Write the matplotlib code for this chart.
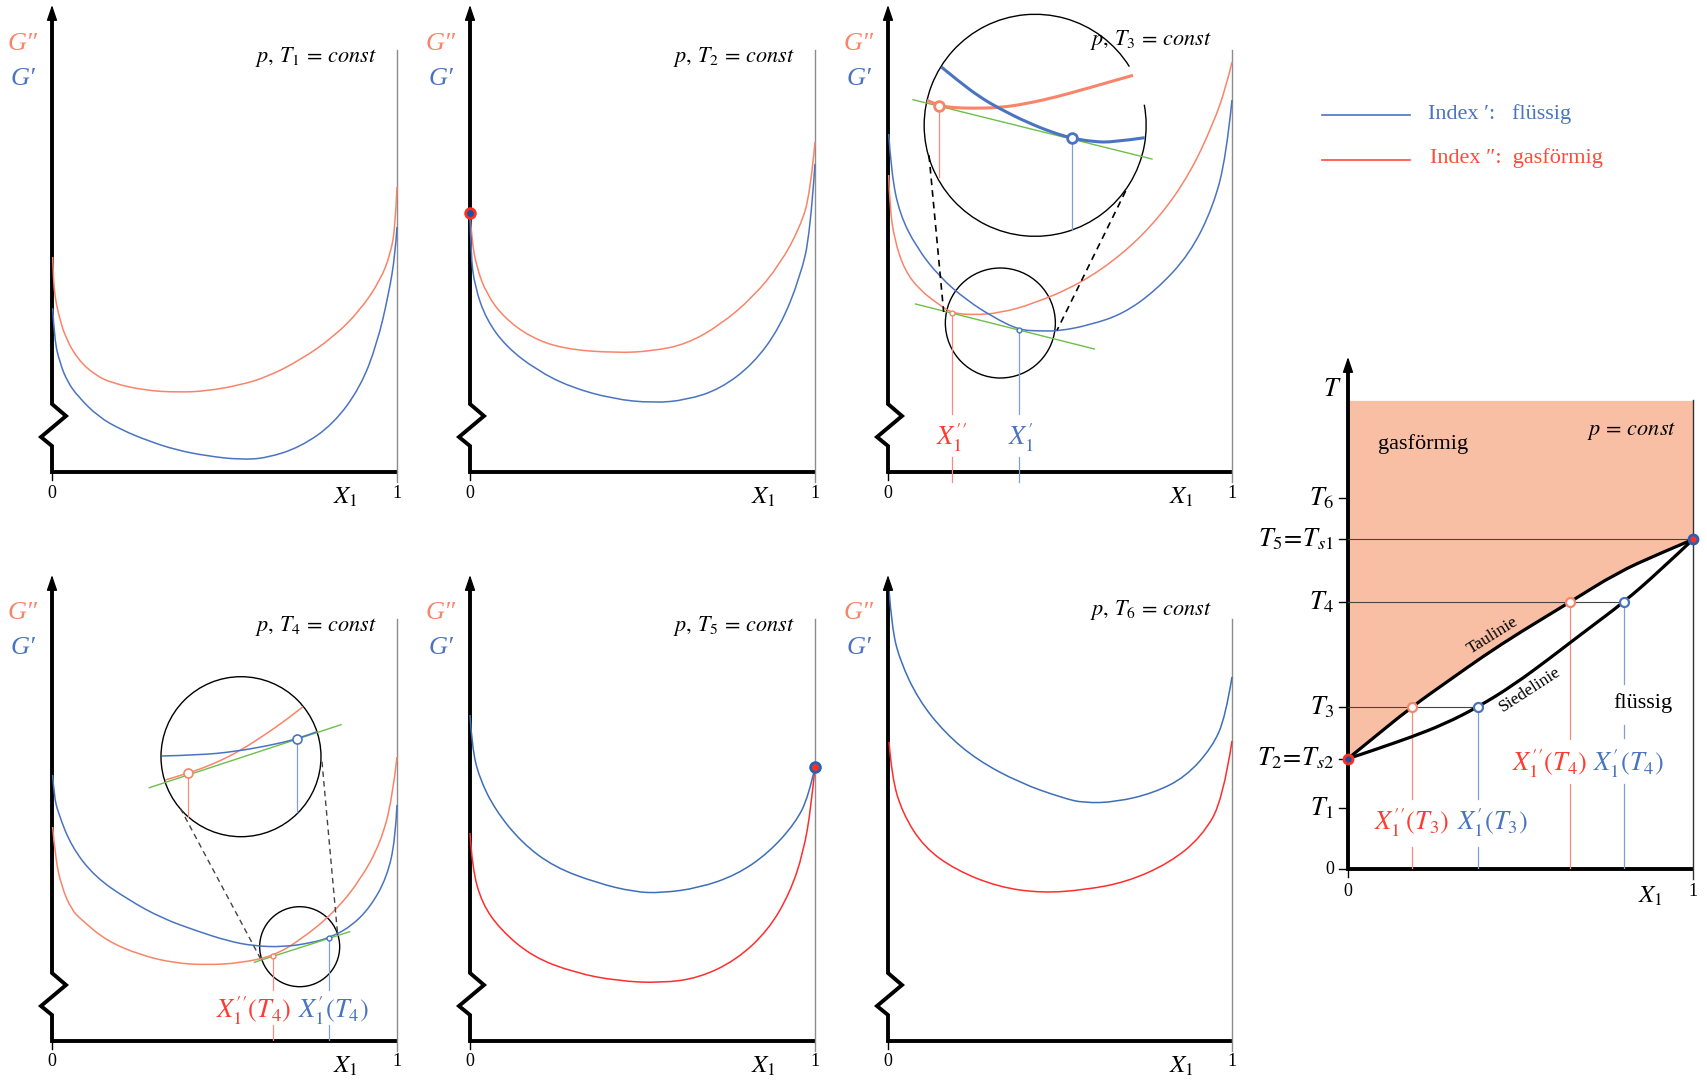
import matplotlib
matplotlib.use("Agg")
import matplotlib.pyplot as plt
from matplotlib.patches import Ellipse, Arc, PathPatch
from matplotlib.path import Path
from matplotlib.lines import Line2D

plt.rcParams['font.family'] = ['Liberation Serif', 'DejaVu Serif']
plt.rcParams['mathtext.fontset'] = 'stix'

W, H = 1708, 1081

C_GAS = '#f8846a'
C_LIQ = '#4a74c0'
C_RED = '#ff2d2d'
C_LBL_RED = '#ff3b30'
C_GREEN = '#6cbf4a'
C_SHADE = '#f9bfa5'
C_DROP_RED = '#f58c80'
C_DROP_BLUE = '#7f9fd6'

# ---- G(X1) curves, heights in units of 100 px above the X1 axis ----
P1_GAS_X = [0.002, 0.004, 0.009, 0.018, 0.038, 0.076, 0.125, 0.173, 0.27, 0.367, 0.449, 0.546, 0.623, 0.72, 0.816, 0.894, 0.952, 0.981, 0.995, 1.0]
P1_GAS_H = [2.15, 1.92, 1.75, 1.59, 1.35, 1.12, 0.97, 0.89, 0.815, 0.797, 0.81, 0.87, 0.95, 1.12, 1.35, 1.62, 1.92, 2.18, 2.45, 2.85]
P1_LIQ_X = [0.002, 0.007, 0.023, 0.045, 0.076, 0.134, 0.202, 0.28, 0.36, 0.45, 0.546, 0.623, 0.72, 0.816, 0.894, 0.942, 0.976, 0.995, 1.0]
P1_LIQ_H = [1.637, 1.32, 1.09, 0.90, 0.753, 0.553, 0.42, 0.31, 0.22, 0.16, 0.123, 0.14, 0.25, 0.48, 0.85, 1.28, 1.78, 2.18, 2.45]

P2_GAS_X = [0.0, 0.005, 0.019, 0.048, 0.097, 0.174, 0.271, 0.425, 0.531, 0.628, 0.725, 0.821, 0.899, 0.957, 0.986, 1.0]
P2_GAS_H = [2.59, 2.32, 2.05, 1.78, 1.55, 1.35, 1.23, 1.19, 1.21, 1.28, 1.47, 1.75, 2.08, 2.45, 2.78, 3.30]
P2_LIQ_X = [0.0, 0.002, 0.014, 0.048, 0.106, 0.193, 0.29, 0.415, 0.531, 0.628, 0.725, 0.821, 0.899, 0.957, 0.986, 1.0]
P2_LIQ_H = [2.59, 2.18, 1.85, 1.52, 1.25, 1.02, 0.85, 0.73, 0.69, 0.72, 0.83, 1.08, 1.45, 1.95, 2.38, 3.08]

P3_GAS_X = [0.002, 0.005, 0.019, 0.048, 0.092, 0.15, 0.186, 0.247, 0.325, 0.421, 0.557, 0.683, 0.79, 0.877, 0.945, 0.983, 1.0]
P3_GAS_H = [2.97, 2.65, 2.32, 2.02, 1.82, 1.67, 1.59, 1.57, 1.59, 1.68, 1.88, 2.18, 2.55, 2.98, 3.48, 3.85, 4.10]
P3_LIQ_X = [0.002, 0.01, 0.034, 0.082, 0.15, 0.228, 0.305, 0.381, 0.44, 0.499, 0.586, 0.683, 0.78, 0.877, 0.945, 0.983, 1.0]
P3_LIQ_H = [3.38, 2.98, 2.58, 2.25, 1.95, 1.72, 1.55, 1.42, 1.41, 1.41, 1.47, 1.58, 1.82, 2.18, 2.65, 3.15, 3.72]

P4_GAS_X = [0.002, 0.009, 0.028, 0.057, 0.086, 0.159, 0.256, 0.353, 0.449, 0.546, 0.641, 0.72, 0.816, 0.894, 0.952, 0.986, 1.0]
P4_GAS_H = [2.14, 1.84, 1.54, 1.31, 1.21, 1.00, 0.86, 0.78, 0.76, 0.78, 0.85, 1.01, 1.28, 1.61, 1.98, 2.41, 2.84]
P4_LIQ_X = [0.002, 0.006, 0.018, 0.057, 0.125, 0.222, 0.319, 0.42, 0.51, 0.585, 0.671, 0.749, 0.802, 0.865, 0.923, 0.971, 0.995, 1.0]
P4_LIQ_H = [2.66, 2.45, 2.28, 1.94, 1.64, 1.41, 1.227, 1.10, 1.00, 0.95, 0.94, 0.98, 1.03, 1.14, 1.34, 1.64, 2.01, 2.36]

P5_LIQ_X = [0.0, 0.006, 0.026, 0.073, 0.151, 0.244, 0.368, 0.477, 0.554, 0.663, 0.772, 0.865, 0.943, 0.981, 1.0]
P5_LIQ_H = [3.26, 2.94, 2.64, 2.31, 1.98, 1.74, 1.58, 1.49, 1.48, 1.53, 1.66, 1.88, 2.18, 2.44, 2.74]
P5_GAS_X = [0.0, 0.006, 0.034, 0.089, 0.182, 0.306, 0.43, 0.554, 0.663, 0.772, 0.865, 0.927, 0.966, 0.989, 1.0]
P5_GAS_H = [2.08, 1.74, 1.38, 1.11, 0.84, 0.68, 0.60, 0.58, 0.63, 0.81, 1.11, 1.48, 1.88, 2.34, 2.74]

P6_LIQ_X = [0.003, 0.011, 0.034, 0.089, 0.166, 0.259, 0.384, 0.508, 0.57, 0.663, 0.772, 0.865, 0.943, 0.981, 1.0]
P6_LIQ_H = [4.51, 4.14, 3.81, 3.41, 3.08, 2.81, 2.58, 2.43, 2.38, 2.39, 2.48, 2.64, 2.94, 3.24, 3.64]
P6_GAS_X = [0.003, 0.011, 0.042, 0.104, 0.197, 0.321, 0.446, 0.57, 0.694, 0.818, 0.911, 0.974, 1.0]
P6_GAS_H = [2.99, 2.64, 2.28, 1.94, 1.71, 1.54, 1.48, 1.51, 1.59, 1.78, 2.04, 2.41, 3.0]

# panel 3 details (tangent construction and magnifier)
P3_TANGENT_X = [0.08, 0.60]
P3_TANGENT_H = [1.68, 1.23]
P3_POINTS_X = [0.186, 0.381]          # X1'', X1'
P3_POINTS_H = [1.59, 1.423]
P3_MAG_GAS_X = [0.1134, 0.1483, 0.1889, 0.2471, 0.3246, 0.4021, 0.4893, 0.5862, 0.7122]
P3_MAG_GAS_H = [3.717, 3.663, 3.643, 3.637, 3.643, 3.683, 3.75, 3.843, 3.967]
P3_MAG_LIQ_X = [0.155, 0.2083, 0.2665, 0.3246, 0.4021, 0.4797, 0.5359, 0.5959, 0.6541, 0.7461]
P3_MAG_LIQ_H = [4.05, 3.90, 3.75, 3.633, 3.50, 3.393, 3.337, 3.303, 3.297, 3.343]
P3_MAG_TAN_X = [0.0727, 0.7674]
P3_MAG_TAN_H = [3.723, 3.13]
P3_MAG_POINTS_X = [0.1483, 0.5359]
P3_MAG_POINTS_H = [3.663, 3.337]

# panel 4 details
P4_TANGENT_X = [0.5865, 0.8628]
P4_TANGENT_H = [0.787, 1.093]
P4_POINTS_X = [0.6406, 0.8019]
P4_POINTS_H = [0.853, 1.03]
P4_MAG_GAS_X = [0.3285, 0.3942, 0.4686, 0.5459, 0.6232, 0.6812, 0.7275]
P4_MAG_GAS_H = [2.61, 2.677, 2.77, 2.903, 3.077, 3.217, 3.343]
P4_MAG_LIQ_X = [0.3188, 0.43, 0.5266, 0.6232, 0.7111, 0.7681]
P4_MAG_LIQ_H = [2.85, 2.86, 2.893, 2.95, 3.02, 3.093]
P4_MAG_TAN_X = [0.2821, 0.8377]
P4_MAG_TAN_H = [2.533, 3.163]
P4_MAG_POINTS_X = [0.3942, 0.7111]
P4_MAG_POINTS_H = [2.677, 3.02]

# ---- T-X phase diagram ----
T_TICKS = [0.0, 0.611, 1.104, 1.622, 2.667, 3.296, 3.711]
T_LABELS = ['0', '$T_1$', r'$T_2\!=\!T_{s2}$', '$T_3$', '$T_4$', r'$T_5\!=\!T_{s1}$', '$T_6$']
T_TOP = 4.686
DEW_X = [0.0, 0.05, 0.1845, 0.30, 0.393, 0.50, 0.6425, 0.78, 0.90, 1.0]
DEW_T = [1.104, 1.244, 1.622, 1.903, 2.13, 2.37, 2.667, 2.963, 3.15, 3.296]
BUB_X = [0.0, 0.05, 0.10, 0.18, 0.28, 0.378, 0.48, 0.586, 0.6425, 0.70, 0.799, 0.90, 1.0]
BUB_T = [1.104, 1.16, 1.22, 1.315, 1.45, 1.622, 1.84, 2.11, 2.26, 2.41, 2.667, 2.97, 3.296]
DEW_PTS_X = [0.1845, 0.6425]
BUB_PTS_X = [0.378, 0.799]
PTS_T = [1.622, 2.667]

fig = plt.figure(figsize=(W / 100, H / 100), dpi=100)


def make_panel(left, right, base, top):
    ax = fig.add_axes([left / W, 1 - base / H, (right - left) / W, (base - top) / H])
    ax.set_xlim(0, 1)
    ax.set_ylim(0, (base - top) / 100)
    ax.axis('off')
    ax.px_w = right - left
    return ax


def smooth(ax, xs, hs, color, lw, zorder=2):
    # quadratic spline through segment midpoints, drawn by matplotlib's Path
    pts = list(zip(xs, hs))
    verts = [pts[0]]
    codes = [Path.MOVETO]
    n = len(pts)
    for i in range(1, n - 1):
        if i < n - 2:
            end = ((pts[i][0] + pts[i + 1][0]) / 2, (pts[i][1] + pts[i + 1][1]) / 2)
        else:
            end = pts[-1]
        verts += [pts[i], end]
        codes += [Path.CURVE3, Path.CURVE3]
    if n == 2:
        verts.append(pts[1])
        codes.append(Path.LINETO)
    ax.add_patch(PathPatch(Path(verts, codes), fill=False, edgecolor=color, lw=lw,
                           clip_on=False, zorder=zorder, capstyle='butt'))


def circle(ax, cx, ch, r_px):
    e = Ellipse((cx, ch), 2 * r_px / ax.px_w, 2 * r_px / 100, fill=False,
                edgecolor='k', lw=1.0, clip_on=False)
    ax.add_patch(e)


def g_frame(ax, title, title_h):
    top = ax.get_ylim()[1]
    w = ax.px_w
    ax.plot([0, 0, 14 / w, -11 / w, 0, 0], [top - 0.1, 0.68, 0.56, 0.35, 0.26, 0],
            color='k', lw=2.8, solid_joinstyle='miter', clip_on=False)
    ax.annotate('', xy=(0, top), xytext=(0, top - 0.3),
                arrowprops=dict(arrowstyle='-|>,head_length=0.47,head_width=0.16',
                                color='k', lw=1, shrinkA=0, shrinkB=0, mutation_scale=20))
    ax.plot([0, 1], [0, 0], color='k', lw=2.8, solid_capstyle='butt', clip_on=False)
    ax.plot([1, 1], [-0.1, 4.22], color='#8c8c8c', lw=1.0, clip_on=False)
    ax.plot([0, 0], [-0.08, 0], color='k', lw=1.0, clip_on=False)
    ax.text(0, -0.21, '0', ha='center', va='center', fontsize=13)
    ax.text(1, -0.21, '1', ha='center', va='center', fontsize=13)
    ax.text(0.852, -0.25, '$X_1$', ha='center', va='center', fontsize=18)
    ax.text(-0.085, 4.28, 'G\u2033', ha='center', va='center', fontsize=19, style='italic', color=C_GAS)
    ax.text(-0.085, 3.93, 'G\u2032', ha='center', va='center', fontsize=19, style='italic', color=C_LIQ)
    ax.text(0.942, title_h, title, ha='right', va='center', fontsize=16)


def curves(ax, gx, gh, lx, lh, cg, cl):
    smooth(ax, gx, gh, cg, 1.1)
    smooth(ax, lx, lh, cl, 1.1)


TOP_BASE, TOP_TOP = 472, 5
BOT_BASE, BOT_TOP = 1041, 575

# panel 1
ax1 = make_panel(52, 397, TOP_BASE, TOP_TOP)
g_frame(ax1, r'$p,\, T_1\, =\, const$', 4.15)
curves(ax1, P1_GAS_X, P1_GAS_H, P1_LIQ_X, P1_LIQ_H, C_GAS, C_LIQ)

# panel 2
ax2 = make_panel(470, 815, TOP_BASE, TOP_TOP)
g_frame(ax2, r'$p,\, T_2\, =\, const$', 4.15)
curves(ax2, P2_GAS_X, P2_GAS_H, P2_LIQ_X, P2_LIQ_H, C_GAS, C_LIQ)
ax2.plot([P2_GAS_X[0]], [P2_GAS_H[0]], 'o', ms=7, mfc='#2050a0', mec='#ff3020', mew=2, clip_on=False, zorder=5)

# panel 3
ax3 = make_panel(888, 1232, TOP_BASE, TOP_TOP)
g_frame(ax3, r'$p,\, T_3\, =\, const$', 4.32)
curves(ax3, P3_GAS_X, P3_GAS_H, P3_LIQ_X, P3_LIQ_H, C_GAS, C_LIQ)
ax3.plot(P3_TANGENT_X, P3_TANGENT_H, color=C_GREEN, lw=1.0)
circle(ax3, 0.3266, 1.49, 55)
ax3.add_patch(Arc((0.4278, 3.467), 2 * 111 / ax3.px_w, 2 * 111 / 100, theta1=65, theta2=393,
                  edgecolor='k', lw=1.0, clip_on=False))
ax3.plot([0.1192, 0.1618], [3.167, 1.60], color='k', lw=1.2, ls=(0, (4, 3)))
ax3.plot([0.6909, 0.4913], [2.81, 1.417], color='k', lw=1.2, ls=(0, (4, 3)))
ax3.plot(P3_MAG_TAN_X, P3_MAG_TAN_H, color=C_GREEN, lw=1.0)
smooth(ax3, P3_MAG_GAS_X, P3_MAG_GAS_H, C_GAS, 2.2)
smooth(ax3, P3_MAG_LIQ_X, P3_MAG_LIQ_H, C_LIQ, 2.2)
ax3.plot([P3_MAG_POINTS_X[0]] * 2, [P3_MAG_POINTS_H[0], 2.95], color=C_DROP_RED, lw=0.9)
ax3.plot([P3_MAG_POINTS_X[1]] * 2, [P3_MAG_POINTS_H[1], 2.423], color=C_DROP_BLUE, lw=0.9)
ax3.plot(P3_MAG_POINTS_X[:1], P3_MAG_POINTS_H[:1], 'o', ms=7, mfc='white', mec=C_GAS, mew=2, zorder=5)
ax3.plot(P3_MAG_POINTS_X[1:], P3_MAG_POINTS_H[1:], 'o', ms=7, mfc='white', mec=C_LIQ, mew=2, zorder=5)
for xp, hp, c in [(P3_POINTS_X[0], P3_POINTS_H[0], C_DROP_RED), (P3_POINTS_X[1], P3_POINTS_H[1], C_DROP_BLUE)]:
    ax3.plot([xp, xp], [hp, 0.58], color=c, lw=0.9)
    ax3.plot([xp, xp], [0.15, -0.1], color=c, lw=0.9, clip_on=False)
ax3.plot(P3_POINTS_X[:1], P3_POINTS_H[:1], 'o', ms=3.5, mfc='white', mec=C_GAS, mew=1, zorder=5)
ax3.plot(P3_POINTS_X[1:], P3_POINTS_H[1:], 'o', ms=3.5, mfc='white', mec=C_LIQ, mew=1, zorder=5)
ax3.text(0.184, 0.34, r"$X_1''$", ha='center', va='center', fontsize=19, color=C_LBL_RED)
ax3.text(0.388, 0.34, r"$X_1'$", ha='center', va='center', fontsize=19, color=C_LIQ)

# panel 4
ax4 = make_panel(52, 397, BOT_BASE, BOT_TOP)
g_frame(ax4, r'$p,\, T_4\, =\, const$', 4.15)
curves(ax4, P4_GAS_X, P4_GAS_H, P4_LIQ_X, P4_LIQ_H, C_GAS, C_LIQ)
ax4.plot(P4_TANGENT_X, P4_TANGENT_H, color=C_GREEN, lw=1.0)
circle(ax4, 0.7179, 0.943, 40)
circle(ax4, 0.5478, 2.843, 80)
ax4.plot([0.372, 0.6039], [2.327, 0.827], color='#444444', lw=1.0, ls=(0, (4, 3)))
ax4.plot([0.7826, 0.828], [2.793, 1.06], color='#444444', lw=1.0, ls=(0, (4, 3)))
ax4.plot(P4_MAG_TAN_X, P4_MAG_TAN_H, color=C_GREEN, lw=1.0)
smooth(ax4, P4_MAG_GAS_X, P4_MAG_GAS_H, C_GAS, 1.1)
smooth(ax4, P4_MAG_LIQ_X, P4_MAG_LIQ_H, C_LIQ, 1.1)
ax4.plot([P4_MAG_POINTS_X[0]] * 2, [P4_MAG_POINTS_H[0], 2.243], color=C_DROP_RED, lw=0.9)
ax4.plot([P4_MAG_POINTS_X[1]] * 2, [P4_MAG_POINTS_H[1], 2.293], color=C_DROP_BLUE, lw=0.9)
ax4.plot(P4_MAG_POINTS_X[:1], P4_MAG_POINTS_H[:1], 'o', ms=6.5, mfc='white', mec=C_GAS, mew=1.2, zorder=5)
ax4.plot(P4_MAG_POINTS_X[1:], P4_MAG_POINTS_H[1:], 'o', ms=6.5, mfc='white', mec=C_LIQ, mew=1.2, zorder=5)
for xp, hp, c in [(P4_POINTS_X[0], P4_POINTS_H[0], C_DROP_RED), (P4_POINTS_X[1], P4_POINTS_H[1], C_DROP_BLUE)]:
    ax4.plot([xp, xp], [hp, 0.51], color=c, lw=0.9)
    ax4.plot([xp, xp], [0.16, 0], color=c, lw=0.9)
ax4.plot(P4_POINTS_X[:1], P4_POINTS_H[:1], 'o', ms=3.5, mfc='white', mec=C_GAS, mew=1, zorder=5)
ax4.plot(P4_POINTS_X[1:], P4_POINTS_H[1:], 'o', ms=3.5, mfc='white', mec=C_LIQ, mew=1, zorder=5)
ax4.text(0.5845, 0.30, r"$X_1''(T_4)$", ha='center', va='center', fontsize=19, color=C_LBL_RED)
ax4.text(0.8164, 0.30, r"$X_1'(T_4)$", ha='center', va='center', fontsize=19, color=C_LIQ)

# panel 5
ax5 = make_panel(470, 815, BOT_BASE, BOT_TOP)
g_frame(ax5, r'$p,\, T_5\, =\, const$', 4.15)
curves(ax5, P5_GAS_X, P5_GAS_H, P5_LIQ_X, P5_LIQ_H, C_RED, '#3d6fb8')
ax5.plot([P5_LIQ_X[-1]], [P5_LIQ_H[-1]], 'o', ms=7, mfc='#ff3020', mec='#2a60b0', mew=2, clip_on=False, zorder=5)

# panel 6
ax6 = make_panel(888, 1232, BOT_BASE, BOT_TOP)
g_frame(ax6, r'$p,\, T_6\, =\, const$', 4.31)
curves(ax6, P6_GAS_X, P6_GAS_H, P6_LIQ_X, P6_LIQ_H, C_RED, '#3d6fb8')

# phase diagram
axp = make_panel(1348, 1693, 869, 357)
axp.fill_between(DEW_X, DEW_T, T_TOP, color=C_SHADE, lw=0)
topp = axp.get_ylim()[1]
axp.plot([0, 0], [0, topp - 0.1], color='k', lw=2.8, clip_on=False)
axp.annotate('', xy=(0, topp), xytext=(0, topp - 0.3),
             arrowprops=dict(arrowstyle='-|>,head_length=0.47,head_width=0.16',
                             color='k', lw=1, shrinkA=0, shrinkB=0, mutation_scale=20))
axp.plot([0, 1], [0, 0], color='k', lw=2.8, solid_capstyle='butt', clip_on=False)
axp.plot([1, 1], [-0.1, T_TOP], color='#333333', lw=1.0, clip_on=False)
axp.plot([0, 0], [-0.08, 0], color='k', lw=1.0, clip_on=False)
for t, lab in zip(T_TICKS, T_LABELS):
    axp.plot([-0.025, 0], [t, t], color='k', lw=1.0, clip_on=False)
    axp.text(-0.04, t, lab, ha='right', va='center', fontsize=13 if lab == '0' else 19)
axp.text(-0.046, 4.79, '$T$', ha='center', va='center', fontsize=19)
axp.text(0, -0.23, '0', ha='center', va='center', fontsize=13)
axp.text(1, -0.23, '1', ha='center', va='center', fontsize=13)
axp.text(0.878, -0.27, '$X_1$', ha='center', va='center', fontsize=18)
# tie lines
axp.plot([0, 1], [T_TICKS[5]] * 2, color='#444444', lw=0.8)
axp.plot([0, BUB_PTS_X[1]], [PTS_T[1]] * 2, color='#444444', lw=0.8)
axp.plot([0, BUB_PTS_X[0]], [PTS_T[0]] * 2, color='#444444', lw=0.8)
# drop lines with gaps for the labels
axp.plot([DEW_PTS_X[0]] * 2, [PTS_T[0], 0.70], color=C_DROP_RED, lw=0.9)
axp.plot([DEW_PTS_X[0]] * 2, [0.22, 0], color=C_DROP_RED, lw=0.9)
axp.plot([BUB_PTS_X[0]] * 2, [PTS_T[0], 0.70], color=C_DROP_BLUE, lw=0.9)
axp.plot([BUB_PTS_X[0]] * 2, [0.22, 0], color=C_DROP_BLUE, lw=0.9)
axp.plot([DEW_PTS_X[1]] * 2, [PTS_T[1], 1.30], color=C_DROP_RED, lw=0.9)
axp.plot([DEW_PTS_X[1]] * 2, [0.85, 0], color=C_DROP_RED, lw=0.9)
axp.plot([BUB_PTS_X[1]] * 2, [PTS_T[1], 1.85], color=C_DROP_BLUE, lw=0.9)
axp.plot([BUB_PTS_X[1]] * 2, [1.44, 1.31], color=C_DROP_BLUE, lw=0.9)
axp.plot([BUB_PTS_X[1]] * 2, [0.85, 0], color=C_DROP_BLUE, lw=0.9)
# dew and bubble lines
smooth(axp, DEW_X, DEW_T, 'k', 2.3, zorder=4)
smooth(axp, BUB_X, BUB_T, 'k', 2.3, zorder=4)
axp.plot(DEW_PTS_X, PTS_T, 'o', ms=6.5, mfc='white', mec=C_GAS, mew=1.6, zorder=6)
axp.plot(BUB_PTS_X, PTS_T, 'o', ms=6.5, mfc='white', mec=C_LIQ, mew=1.6, zorder=6)
axp.plot([0], [T_TICKS[2]], 'o', ms=6.5, mfc='#2050a0', mec='#ff3020', mew=2, zorder=6, clip_on=False)
axp.plot([1], [T_TICKS[5]], 'o', ms=6.5, mfc='#ff3020', mec='#2a60b0', mew=2, zorder=6, clip_on=False)
axp.text(0.087, 4.25, 'gasförmig', ha='left', va='center', fontsize=16)
axp.text(0.951, 4.38, r'$p\, =\, const$', ha='right', va='center', fontsize=16)
axp.text(0.768, 1.66, 'flüssig', ha='left', va='center', fontsize=16)
axp.text(0.42, 2.33, 'Taulinie', ha='center', va='center', fontsize=12.5, rotation=32)
axp.text(0.528, 1.79, 'Siedelinie', ha='center', va='center', fontsize=12.5, rotation=33)
axp.text(0.183, 0.46, r"$X_1''(T_3)$", ha='center', va='center', fontsize=19, color=C_LBL_RED)
axp.text(0.417, 0.46, r"$X_1'(T_3)$", ha='center', va='center', fontsize=19, color=C_LIQ)
axp.text(0.583, 1.05, r"$X_1''(T_4)$", ha='center', va='center', fontsize=19, color=C_LBL_RED)
axp.text(0.814, 1.05, r"$X_1'(T_4)$", ha='center', va='center', fontsize=19, color=C_LIQ)

# legend
fig.add_artist(Line2D([1322 / W, 1410 / W], [1 - 115 / H] * 2, color=C_LIQ, lw=1.2))
fig.add_artist(Line2D([1322 / W, 1410 / W], [1 - 160 / H] * 2, color='#ff4a3a', lw=1.2))
fig.text(1428 / W, 1 - 114 / H, 'Index \u2032:   flüssig', ha='left', va='center', fontsize=16, color=C_LIQ)
fig.text(1430 / W, 1 - 158 / H, 'Index \u2033:  gasförmig', ha='left', va='center', fontsize=16, color='#ff4a3a')

fig.savefig('out.png', dpi=100)
